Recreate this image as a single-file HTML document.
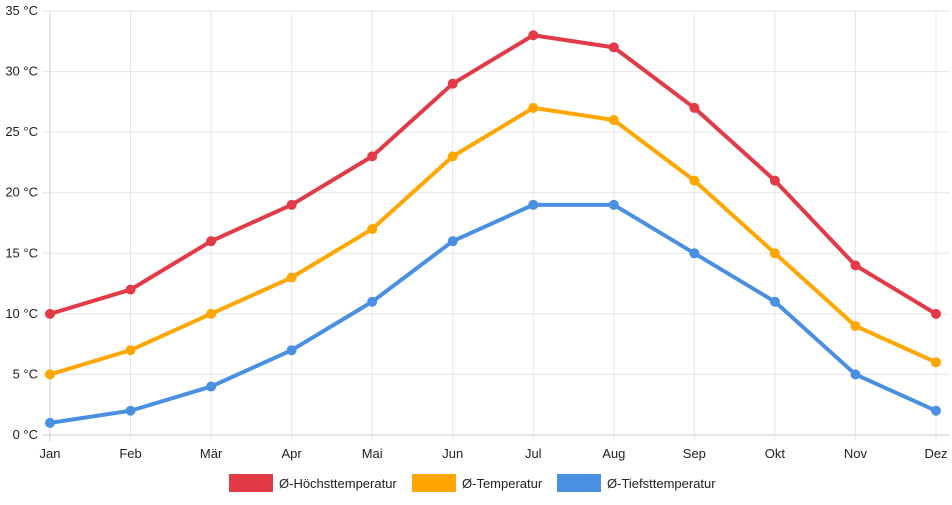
<!DOCTYPE html>
<html><head><meta charset="utf-8"><style>
body{margin:0;background:#fff;font-family:"Liberation Sans",sans-serif;}
svg text{font-family:"Liberation Sans",sans-serif;font-size:13px;fill:#222;}
</style></head><body>
<svg id="c" width="952" height="500"></svg>
<script>
const categories=["Jan","Feb","Mär","Apr","Mai","Jun","Jul","Aug","Sep","Okt","Nov","Dez"];
const highTemps=[10,12,16,19,23,29,33,32,27,21,14,10];
const avgTemps=[5,7,10,13,17,23,27,26,21,15,9,6];
const lowTemps=[1,2,4,7,11,16,19,19,15,11,5,2];
const yTicks=[0,5,10,15,20,25,30,35];
const seriesNames=["Ø-Höchsttemperatur","Ø-Temperatur","Ø-Tiefsttemperatur"];
const svg=document.getElementById('c');
const NS="http://www.w3.org/2000/svg";
const x0=50,x1=936,y0=435,y1=11;
const xs=i=>x0+i*(x1-x0)/(categories.length-1);
const ys=v=>y0-(v/35)*(y0-y1);
function mk(t,a){const e=document.createElementNS(NS,t);for(const k in a)e.setAttribute(k,a[k]);svg.appendChild(e);return e;}
yTicks.forEach(v=>{
  const l=mk('line',{x1:x0-8,x2:x1+14,y1:ys(v),y2:ys(v),stroke:v===0?'#ccc':'#e6e6e6'});
  
  
  const t=mk('text',{x:38,y:ys(v)+4,'text-anchor':'end'});t.textContent=v+' °C';
  
  
});
categories.forEach((c,i)=>{
  const l=mk('line',{x1:xs(i),x2:xs(i),y1:y1,y2:y0+6,stroke:i===0?'#ccc':'#e6e6e6'});
  
  
  const t=mk('text',{x:xs(i),y:458,'text-anchor':'middle'});t.textContent=c;
  
  
});
const series=[[highTemps,'#e23a47','high'],[avgTemps,'#ffa600','avg'],[lowTemps,'#4a90e2','low']];
series.forEach(([d,col,n])=>{
  const p=mk('polyline',{points:d.map((v,i)=>xs(i)+','+ys(v)).join(' '),fill:'none',stroke:col,'stroke-width':4,'stroke-linejoin':'round'});
  
  
  d.forEach((v,i)=>{
    const c=mk('circle',{cx:xs(i),cy:ys(v),r:5,fill:col});
    
    
  });
});
const lx=[229,412,557];
series.forEach(([d,col,n],k)=>{
  const r=mk('rect',{x:lx[k],y:474,width:44,height:18,fill:col});
  
  
  const t=mk('text',{x:lx[k]+50,y:488});t.textContent=seriesNames[k];
  
  
});
</script>
</body></html>
